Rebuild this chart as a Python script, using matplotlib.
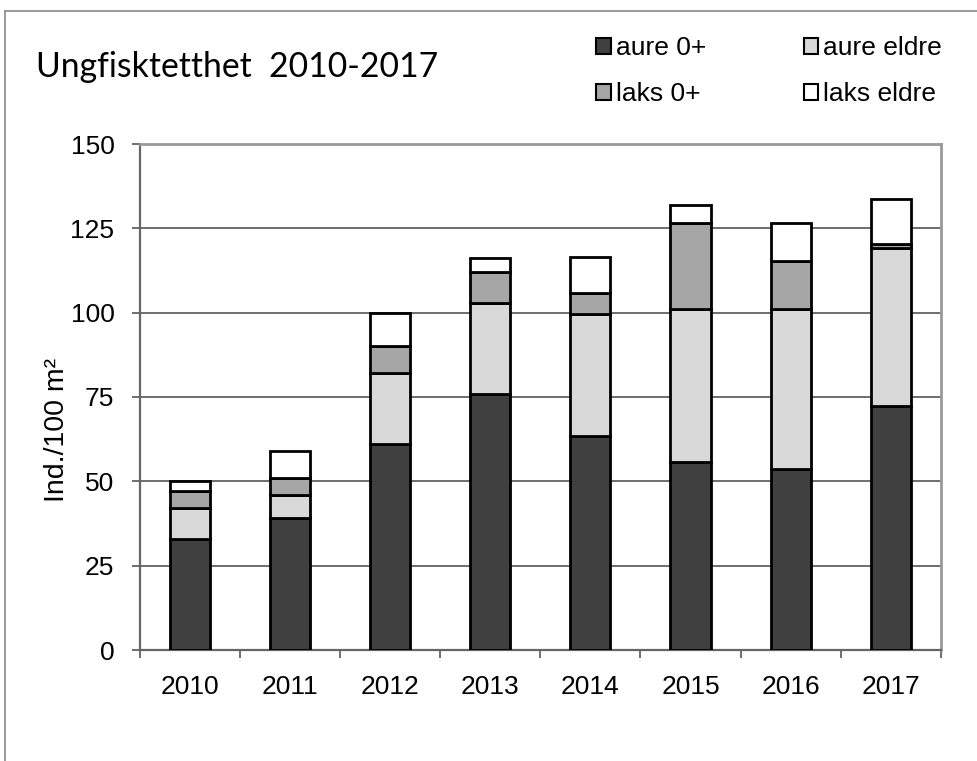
import matplotlib
matplotlib.use("Agg")
import matplotlib.pyplot as plt
from matplotlib.lines import Line2D
import numpy as np

years = ["2010", "2011", "2012", "2013", "2014", "2015", "2016", "2017"]
aure_0 = [33, 39, 61, 76, 63.3, 55.7, 53.6, 72.2]
aure_eldre = [9, 7, 21, 27, 36.4, 45.3, 47.4, 47.1]
laks_0 = [5, 5, 8, 9, 6.2, 25.5, 14.2, 1.0]
laks_eldre = [3, 8, 10, 4.2, 10.6, 5.4, 11.3, 13.3]
series_names = ["aure 0+", "aure eldre", "laks 0+", "laks eldre"]
series_colors = ["#404040", "#d9d9d9", "#a6a6a6", "#ffffff"]
yticks = [0, 25, 50, 75, 100, 125, 150]

W, H = 977, 761
fig = plt.figure(figsize=(W / 100, H / 100), dpi=100)
fig.patch.set_facecolor("white")

def fx(px):
    return px / W

def fy(py):
    return 1 - py / H

ax = fig.add_axes([fx(139.5), fy(650), fx(941) - fx(139.5), fy(144) - fy(650)])

x = np.arange(len(years))
bottom = np.zeros(len(years))
handles = []
for vals, name, col in zip([aure_0, aure_eldre, laks_0, laks_eldre], series_names, series_colors):
    b = ax.bar(x, vals, width=0.4, bottom=bottom, color=col, edgecolor="black",
               linewidth=2.0, label=name, zorder=3)
    handles.append(b)
    bottom = bottom + np.array(vals)

ax.set_xlim(-0.5, len(years) - 0.5)
ax.set_ylim(0, 150)
ax.set_yticks(yticks)
ax.set_yticklabels([str(t) for t in yticks])
ax.yaxis.grid(True, color="#555555", linewidth=1.2, zorder=0)
ax.set_axisbelow(True)

ax.set_xticks(x)
ax.set_xticklabels(years)
ax.set_xticks(np.arange(-0.5, len(years), 1.0), minor=True)
ax.tick_params(axis="x", which="major", length=0, pad=18, labelsize=19)
ax.tick_params(axis="x", which="minor", length=6, width=1.2, color="#555555", direction="out")
ax.tick_params(axis="y", length=6, width=1.2, color="#555555", direction="out", pad=12, labelsize=19)
for lab in ax.get_xticklabels() + ax.get_yticklabels():
    lab.set_family("Liberation Sans")

for s in ["left", "bottom"]:
    ax.spines[s].set_color("#666666")
    ax.spines[s].set_linewidth(1.6)
for s in ["top", "right"]:
    ax.spines[s].set_color("#999999")
    ax.spines[s].set_linewidth(2.0)

fig.text(fx(57), fy(430), "Ind./100 m²", fontsize=20.5, family="Liberation Sans",
         rotation=90, ha="center", va="center")

fig.text(fx(36), fy(77), "Ungfisktetthet  2010-2017", fontsize=24.3, family="Lato",
         ha="left", va="baseline")

leg = fig.legend([handles[0], handles[2], handles[1], handles[3]],
                 [series_names[0], series_names[2], series_names[1], series_names[3]],
                 ncol=2, loc="upper left", bbox_to_anchor=(fx(596), fy(36)),
                 frameon=False, prop={"family": "Liberation Sans", "size": 19},
                 handlelength=0.55, handleheight=0.55, handletextpad=0.2,
                 columnspacing=3.7, labelspacing=0.85, borderaxespad=0, borderpad=0)
for p in leg.get_patches():
    p.set_linewidth(1.5)

fig.add_artist(Line2D([fx(5), 1.0], [fy(10.5), fy(10.5)], color="#888888", linewidth=1.2))
fig.add_artist(Line2D([fx(5), fx(5)], [fy(10.5), 0.0], color="#888888", linewidth=1.2))

fig.savefig("out.png", dpi=100, facecolor="white")
